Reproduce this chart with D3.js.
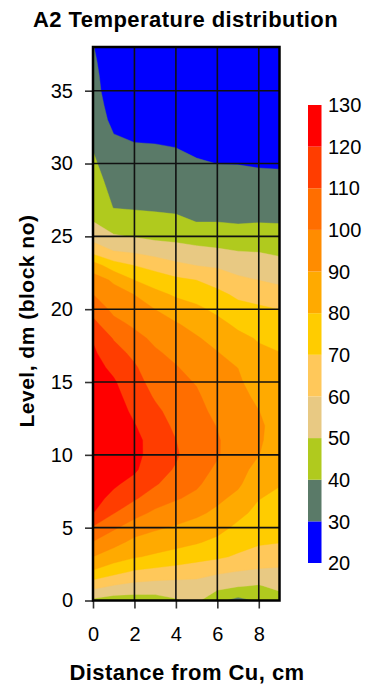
<!DOCTYPE html>
<html>
<head>
<meta charset="utf-8">
<script src="https://cdn.jsdelivr.net/npm/d3@7"></script>
<style>
  body { margin: 0; background: #fff; }
  svg { display: block; }
  text { font-family: "Liberation Sans", Arial, sans-serif; fill: #000; }
</style>
</head>
<body>
<svg id="chart" width="370" height="684"></svg>
<script>
// Grid: one temperature (°C) per level (dm, 0..38) in each column (distance from Cu, cm)
const levels = d3.range(0, 39);
const distances = [0, 1, 2, 3, 4, 5, 6, 7, 8, 9];

const temp0cm = [48, 63.4, 79.0, 89.9, 99.5, 109.0, 120.2, 123.5, 126, 127.5, 128, 128, 128, 127.5, 126.5, 125, 123.3, 121.5, 119.3, 112.7, 106.3, 100.1, 94.4, 85, 65.7, 56.3, 50.1, 47.9, 45.8, 43.8, 41.7, 39.7, 38.4, 37.1, 35.7, 34.4, 33.1, 31.7, 30.4];
const temp1cm = [45, 59.3, 73.6, 84.8, 93.2, 101.4, 110.3, 117.2, 121.5, 124, 125.3, 126, 125.5, 124.6, 123, 121, 117.9, 113.75, 109.3, 102.7, 97.6, 93.6, 88.6, 74.3, 59.9, 50.9, 44.7, 39.6, 37.7, 35.8, 33.8, 31.9, 30.1, 27, 25, 23, 23, 23, 23];
const temp2cm = [45, 56.9, 69.1, 80.8, 87.4, 95, 103.3, 111.1, 116.7, 121.5, 123, 122.6, 120.5, 118.1, 115.8, 113.5, 111.2, 107.6, 102.9, 98.3, 94.2, 89.9, 79.9, 69.9, 58.2, 49.4, 43.5, 39.2, 37.2, 35.2, 33.2, 31.2, 28.5, 26, 24, 22, 22, 22, 22];
const temp3cm = [46, 55.9, 67.3, 78.4, 85.2, 91.3, 98, 104.7, 111, 113.5, 115.5, 116, 114.5, 112, 109, 106.4, 103.8, 101.3, 98, 94, 89.9, 82.9, 75.4, 66.3, 55.5, 47.8, 42.4, 38.9, 36.9, 34.9, 32.8, 30.8, 28.5, 26, 24, 22, 22, 22, 22];
const temp4cm = [49, 55.9, 65.7, 76.1, 83.2, 88.9, 95, 100.8, 105, 109.2, 111, 110.1, 108.1, 106.2, 104.3, 102.5, 100.6, 97.6, 94.1, 90.7, 85, 78.7, 72, 62.2, 53.8, 47.2, 41.7, 38.5, 36.5, 34.4, 32.3, 30.2, 28, 25.5, 23.5, 22, 22, 22, 22];
const temp5cm = [52, 56.7, 63.6, 73.7, 80.8, 86.2, 91.8, 97.6, 101.5, 103.8, 105.2, 105.5, 104.5, 103, 101.3, 99.4, 96.6, 93.7, 90.9, 86.7, 81.9, 76.3, 69.9, 59.9, 52.3, 45.9, 39.9, 37.7, 35.5, 33.2, 30.9, 28.5, 26, 24, 22, 22, 22, 22, 22];
const temp6cm = [42, 53.3, 61.7, 71.5, 77.8, 83.1, 88, 91.9, 95.2, 98.4, 100.8, 100.8, 99.6, 97.4, 95.6, 93.9, 92.1, 90.4, 86.7, 82.5, 77.9, 72.6, 66.2, 58.5, 51.1, 45.4, 39.9, 37.5, 34.9, 32.4, 29.9, 27, 25, 23.5, 22, 22, 22, 22, 22];
const temp7cm = [37, 50.7, 59.9, 68.7, 73.6, 77.9, 82.5, 87.5, 91.5, 93.5, 95, 95.5, 95, 93.8, 92.5, 91.2, 89.9, 86.2, 82.3, 78.1, 73.3, 68.1, 61.9, 55.9, 49.9, 44.1, 39.3, 36.9, 34.5, 32.1, 29.8, 27, 25, 23.5, 22, 22, 22, 22, 22];
const temp8cm = [41, 49.2, 58.6, 65.9, 71.2, 74.2, 77.3, 80.3, 83.5, 86.8, 90.2, 91, 91, 90.1, 88.3, 86.1, 83.9, 81.7, 79.2, 75.4, 71.5, 66.3, 59.9, 54.7, 49.5, 44.5, 39.7, 37.1, 34.5, 31.8, 29.2, 27, 25, 23.5, 22, 22, 22, 22, 22];
const temp9cm = [45, 52.8, 58.3, 64.4, 70.3, 72.8, 75.3, 77.8, 80.5, 83, 85, 86.5, 87.5, 87, 85.8, 84, 82, 80.2, 76.9, 73.4, 69.9, 63.8, 58, 53, 48.2, 43.6, 39.5, 36.8, 34.2, 31.6, 29, 27, 25, 23.5, 22, 22, 22, 22, 22];

// Isotherm levels and the fill of each 10-degree band
const bandStarts = [20, 30, 40, 50, 60, 70, 80, 90, 100, 110, 120];
const bandColors = ["#0000ff", "#5a7a68", "#b0ca1e", "#e8c983", "#ffc85a", "#ffcc00",
                    "#ffaa00", "#ff8c00", "#ff6e00", "#ff3d00", "#ff0000"];
const scaleLabels = [20, 30, 40, 50, 60, 70, 80, 90, 100, 110, 120, 130];

const xTicks = [0, 2, 4, 6, 8];
const yTicks = [0, 5, 10, 15, 20, 25, 30, 35];

const columns = [temp0cm, temp1cm, temp2cm, temp3cm, temp4cm,
                 temp5cm, temp6cm, temp7cm, temp8cm, temp9cm];

const svg = d3.select("#chart");
const plot = { left: 93, right: 279.5, top: 47, bottom: 600.5 };

const x = d3.scaleLinear().domain([0, 9]).range([plot.left, plot.right]);
const y = d3.scaleLinear().domain([0, 38]).range([plot.bottom, plot.top]);

// Row-major grid for d3.contours (row = level, column = distance)
const nx = distances.length, ny = levels.length;
const grid = new Array(nx * ny);
levels.forEach((lv, j) => distances.forEach((d, i) => { grid[j * nx + i] = columns[i][j]; }));

// contour space puts sample i at i + 0.5
const gx = d3.scaleLinear().domain([0.5, nx - 0.5]).range([distances[0], distances[nx - 1]]);
const gy = d3.scaleLinear().domain([0.5, ny - 0.5]).range([levels[0], levels[ny - 1]]);

const projection = d3.geoTransform({
  point(px, py) { this.stream.point(x(gx(px)), y(gy(py))); }
});
const path = d3.geoPath(projection);

const contours = d3.contours().size([nx, ny]).thresholds(bandStarts)(grid);

svg.append("clipPath").attr("id", "plot-clip")
  .append("rect")
  .attr("x", plot.left).attr("y", plot.top)
  .attr("width", plot.right - plot.left).attr("height", plot.bottom - plot.top);

svg.append("g").attr("clip-path", "url(#plot-clip)")
  .selectAll("path").data(contours).join("path")
  .attr("d", path)
  .attr("fill", c => bandColors[bandStarts.indexOf(c.value)])
  .attr("stroke", c => bandColors[bandStarts.indexOf(c.value)])
  .attr("stroke-width", 0.4);

// grid lines
const gridG = svg.append("g").attr("stroke", "#111").attr("stroke-width", 1.6);
gridG.selectAll("line.v").data(xTicks.filter(t => t > 0)).join("line")
  .attr("x1", d => x(d)).attr("x2", d => x(d))
  .attr("y1", plot.top).attr("y2", plot.bottom);
gridG.selectAll("line.h").data(yTicks.filter(t => t > 0)).join("line")
  .attr("x1", plot.left).attr("x2", plot.right)
  .attr("y1", d => y(d)).attr("y2", d => y(d));

// axes
const yAxis = d3.axisLeft(y).tickValues(yTicks).tickSize(8).tickSizeOuter(0).tickPadding(12);
const xAxis = d3.axisBottom(x).tickValues(xTicks).tickSize(8).tickSizeOuter(0).tickPadding(18);

const gY = svg.append("g").attr("transform", `translate(${plot.left},0)`).call(yAxis);
const gX = svg.append("g").attr("transform", `translate(0,${plot.bottom})`).call(xAxis);
[gY, gX].forEach(g => {
  g.select(".domain").remove();
  g.selectAll(".tick line").attr("stroke", "#333").attr("stroke-width", 1.6);
  g.selectAll(".tick text").attr("font-size", 20).attr("font-family", "Liberation Sans, Arial, sans-serif").attr("fill", "#000");
});

// frame
svg.append("rect")
  .attr("x", plot.left).attr("y", plot.top)
  .attr("width", plot.right - plot.left).attr("height", plot.bottom - plot.top)
  .attr("fill", "none").attr("stroke", "#000").attr("stroke-width", 2.5);

// colour scale
const cs = d3.scaleLinear().domain([20, 130]).range([563, 105]);
const legend = svg.append("g");
legend.selectAll("rect").data(bandStarts).join("rect")
  .attr("x", 308).attr("width", 13.5)
  .attr("y", d => cs(d + 10)).attr("height", d => cs(d) - cs(d + 10))
  .attr("fill", (d, i) => bandColors[i]);
legend.selectAll("text").data(scaleLabels).join("text")
  .attr("x", 328).attr("y", d => cs(d)).attr("dy", "0.36em")
  .attr("font-size", 20).text(d => d);

// titles
svg.append("text").attr("x", 185.5).attr("y", 27).attr("text-anchor", "middle")
  .attr("font-size", 22).attr("letter-spacing", 0.45).attr("font-weight", "bold")
  .text("A2 Temperature distribution");
svg.append("text").attr("x", 187).attr("y", 680).attr("text-anchor", "middle")
  .attr("font-size", 22).attr("letter-spacing", 0.45).attr("font-weight", "bold")
  .text("Distance from Cu, cm");
svg.append("text").attr("transform", "translate(34,321) rotate(-90)").attr("text-anchor", "middle")
  .attr("font-size", 21).attr("letter-spacing", 0.5).attr("font-weight", "bold")
  .text("Level, dm (block no)");
</script>
</body>
</html>
